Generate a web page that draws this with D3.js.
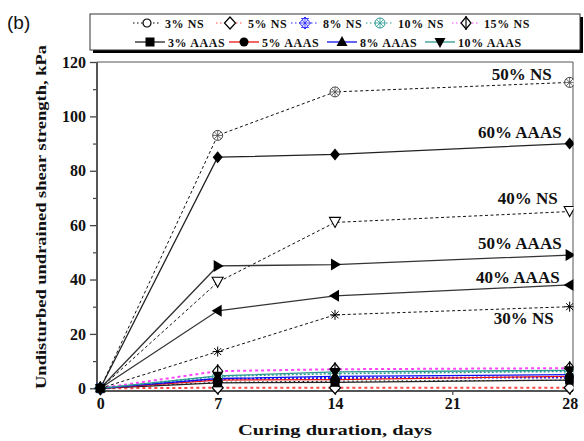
<!DOCTYPE html>
<html><head><meta charset="utf-8">
<script src="https://cdn.jsdelivr.net/npm/d3@7"></script>
<style>body{margin:0;background:#fff}svg{display:block}</style>
</head><body>
<script>
// ---------- data ----------
const days = [0, 7, 14, 28];
const xTicks = [0, 7, 14, 21, 28];
const yTicks = [0, 20, 40, 60, 80, 100, 120];
const yMinor = [10, 30, 50, 70, 90, 110];

const ns3  = [0, 2.2, 2.6, 3.0];
const ns5  = [0, 0.2, 0.2, 0.2];
const ns8  = [0, 3.4, 3.8, 4.0];
const ns10 = [0, 4.4, 5.4, 6.2];
const ns15 = [0, 6.3, 7.0, 7.4];
const aaas3  = [0, 2.0, 2.2, 3.0];
const aaas5  = [0, 3.0, 3.2, 4.4];
const aaas8  = [0, 3.6, 4.4, 5.0];
const aaas10 = [0, 4.6, 6.0, 6.6];

const ns30 = [0, 13.5, 27, 30];
const ns40 = [0, 39, 61, 65];
const ns50 = [0, 93, 109, 112.5];
const aaas40 = [0, 28.5, 34, 38];
const aaas50 = [0, 45, 45.5, 49];
const aaas60 = [0, 85, 86, 90];

const legendRow1 = ["3% NS", "5% NS", "8% NS", "10% NS", "15% NS"];
const legendRow2 = ["3% AAAS", "5% AAAS", "8% AAAS", "10% AAAS"];
const bigLabels = ["50% NS", "60% AAAS", "40% NS", "50% AAAS", "40% AAAS", "30% NS"];

// ---------- setup ----------
const W = 584, H = 441;
const L = 97, R = 573, T = 62, B = 391;
const svg = d3.select("body").append("svg").attr("width", W).attr("height", H);
const x = d3.scaleLinear().domain([-0.2, 28.2]).range([L, R]);
const y = d3.scaleLinear().domain([-1, 120]).range([B, T]);
const serif = "'Liberation Serif','Times New Roman',serif";

const NSdash = "3,2.5";
const smallSeries = [
  {v: ns3,  color: "#000",    dash: "1.5,3", w: 1,   m: "circleOpen", mc: "#000"},
  {v: ns5,  color: "#ff4444", dash: "3,3",   w: 2,   m: "diamondOpen", mc: "#000"},
  {v: ns8,  color: "#2222ff", dash: "2,2",   w: 2,   m: "hatchDiamond", mc: "#2222ff"},
  {v: ns10, color: "#2a9a90", dash: "2,2",   w: 1.5, m: "hatchCircle", mc: "#2a9a90"},
  {v: ns15, color: "#ff44ff", dash: "3,3",   w: 2,   m: "diamondVline", mc: "#000"},
  {v: aaas3,  color: "#222",    dash: null, w: 1.3, m: "square", mc: "#000"},
  {v: aaas5,  color: "#ee1111", dash: null, w: 1.3, m: "circle", mc: "#000"},
  {v: aaas8,  color: "#1111ee", dash: null, w: 1.3, m: "triUp", mc: "#000"},
  {v: aaas10, color: "#2a9a90", dash: null, w: 1.3, m: "triDown", mc: "#000"}
];
const bigSeries = [
  {v: ns50,   color: "#111", dash: NSdash, w: 1, m: "hatchCircle", mc: "#444", label: bigLabels[0], dx: -18, ly: 113.4},
  {v: aaas60, color: "#222", dash: null,   w: 1.3, m: "diamond", mc: "#000", label: bigLabels[1], dx: -8, ly: 92.1},
  {v: ns40,   color: "#111", dash: NSdash, w: 1, m: "triDownOpen", mc: "#000", label: bigLabels[2], dx: -12, ly: 67.6},
  {v: aaas50, color: "#333", dash: null,   w: 1.3, m: "triRight", mc: "#000", label: bigLabels[3], dx: -8, ly: 51.4},
  {v: aaas40, color: "#333", dash: null,   w: 1.3, m: "triLeft", mc: "#000", label: bigLabels[4], dx: -10, ly: 38.6},
  {v: ns30,   color: "#111", dash: NSdash, w: 1, m: "star", mc: "#000", label: bigLabels[5], dx: -16, ly: 23.6}
];

function marker(g, type, cx, cy, c) {
  const s = g.append("g").attr("transform", `translate(${cx},${cy})`);
  const r = 5;
  switch (type) {
    case "circleOpen": s.append("circle").attr("r", 4).attr("fill", "#fff").attr("stroke", c).attr("stroke-width", 1.2); break;
    case "circle": s.append("circle").attr("r", 4.5).attr("fill", c); break;
    case "square": s.append("rect").attr("x", -4.5).attr("y", -4.5).attr("width", 9).attr("height", 9).attr("fill", c); break;
    case "diamond": s.append("path").attr("d", "M0,-6L5,0L0,6L-5,0Z").attr("fill", c); break;
    case "diamondOpen": s.append("path").attr("d", "M0,-6L5.5,0L0,6L-5.5,0Z").attr("fill", "#fff").attr("stroke", c).attr("stroke-width", 1.2); break;
    case "diamondVline":
      s.append("path").attr("d", "M0,-6L5,0L0,6L-5,0Z").attr("fill", "#fff").attr("stroke", c).attr("stroke-width", 1.2);
      s.append("path").attr("d", "M0,-7V7").attr("stroke", c).attr("stroke-width", 1.2); break;
    case "triUp": s.append("path").attr("d", "M0,-6L5.5,4L-5.5,4Z").attr("fill", c); break;
    case "triDown": s.append("path").attr("d", "M0,6L5.5,-4L-5.5,-4Z").attr("fill", c); break;
    case "triDownOpen": s.append("path").attr("d", "M0,5L5.5,-5L-5.5,-5Z").attr("fill", "#fff").attr("stroke", c).attr("stroke-width", 1.1); break;
    case "triRight": s.append("path").attr("d", "M6,0L-4,-6L-4,6Z").attr("fill", c); break;
    case "triLeft": s.append("path").attr("d", "M-6,0L4,-6L4,6Z").attr("fill", c); break;
    case "star":
      s.append("path").attr("d", "M-5,0H5M-3.5,-3.5L3.5,3.5M-3.5,3.5L3.5,-3.5M0,-5V5").attr("stroke", c).attr("stroke-width", 1); break;
    case "hatchCircle":
      s.append("circle").attr("r", r).attr("fill", "#fff").attr("stroke", c).attr("stroke-width", 1);
      s.append("path").attr("d", "M-3.5,-3.5L3.5,3.5M-3.5,3.5L3.5,-3.5M-5,0H5M0,-5V5").attr("stroke", c).attr("stroke-width", 0.8);
      break;
    case "hatchDiamond":
      s.append("path").attr("d", "M0,-6L5.5,0L0,6L-5.5,0Z").attr("fill", "#fff").attr("stroke", c).attr("stroke-width", 1);
      s.append("path").attr("d", "M-2.75,-3L2.75,3M-2.75,3L2.75,-3M-5.5,0H5.5M0,-6V6M-4,-4.5H4M-4,4.5H4").attr("stroke", c).attr("stroke-width", 0.8);
      break;
  }
}

// ---------- clip ----------
svg.append("defs").append("clipPath").attr("id", "clip")
  .append("rect").attr("x", 0).attr("y", 0).attr("width", R + 0.5).attr("height", H);

// ---------- frame ----------
svg.append("line").attr("x1", L).attr("x2", R).attr("y1", T).attr("y2", T).attr("stroke", "#555").attr("stroke-width", 1);
svg.append("line").attr("x1", R).attr("x2", R).attr("y1", T).attr("y2", B).attr("stroke", "#555").attr("stroke-width", 1);

// axes
const yAxis = d3.axisLeft(y).tickValues(yTicks).tickSize(7).tickPadding(4);
const ya = svg.append("g").attr("transform", `translate(${L},0)`).call(yAxis);
ya.select(".domain").remove();
ya.selectAll("line").attr("stroke", "#444").attr("stroke-width", 1.3);
ya.selectAll("text").attr("font-family", serif).attr("font-weight", "bold").attr("font-size", 16).attr("fill", "#111");
const ym = svg.append("g").attr("transform", `translate(${L},0)`)
  .call(d3.axisLeft(y).tickValues(yMinor).tickSize(4).tickFormat(""));
ym.select(".domain").remove();
ym.selectAll("line").attr("stroke", "#444").attr("stroke-width", 1.2);

const xAxis = d3.axisBottom(x).tickValues(xTicks).tickSize(4).tickPadding(3);
const xa = svg.append("g").attr("transform", `translate(0,${B})`).call(xAxis);
xa.select(".domain").remove();
xa.selectAll("line").attr("stroke", "#444").attr("stroke-width", 1.2);
xa.selectAll("text").attr("font-family", serif).attr("font-weight", "bold").attr("font-size", 16).attr("fill", "#111");

svg.append("line").attr("x1", L).attr("x2", L).attr("y1", T).attr("y2", B + 1).attr("stroke", "#555").attr("stroke-width", 2);
svg.append("line").attr("x1", L - 1).attr("x2", R).attr("y1", B).attr("y2", B).attr("stroke", "#555").attr("stroke-width", 2);

// ---------- series ----------
const plot = svg.append("g").attr("clip-path", "url(#clip)");
const line = d3.line().x((d, i) => x(days[i])).y(d => y(d));

function drawSeries(s) {
  plot.append("path").attr("d", line(s.v)).attr("fill", "none")
    .attr("stroke", s.color).attr("stroke-width", s.w)
    .attr("stroke-dasharray", s.dash);
}
smallSeries.forEach(drawSeries);
bigSeries.forEach(drawSeries);
smallSeries.forEach(s => s.v.forEach((v, i) => marker(plot, s.m, x(days[i]), y(v), s.mc)));
bigSeries.forEach(s => s.v.forEach((v, i) => { if (i > 0) marker(plot, s.m, x(days[i]), y(v), s.mc); }));

// labels
bigSeries.forEach(s => {
  svg.append("text").attr("x", x(28) + s.dx).attr("y", y(s.ly))
    .attr("text-anchor", "end").attr("font-family", serif).attr("font-weight", "bold")
    .attr("font-size", 17).attr("fill", "#111").text(s.label);
});

// ---------- axis titles ----------
svg.append("text").attr("x", 335).attr("y", 435).attr("text-anchor", "middle")
  .attr("font-family", serif).attr("font-weight", "bold").attr("font-size", 15)
  .attr("textLength", 194).attr("lengthAdjust", "spacingAndGlyphs").attr("fill", "#111")
  .text("Curing duration, days");
svg.append("text").attr("transform", "translate(46,217) rotate(-90)").attr("text-anchor", "middle")
  .attr("font-family", serif).attr("font-weight", "bold").attr("font-size", 15)
  .attr("textLength", 344).attr("lengthAdjust", "spacingAndGlyphs").attr("fill", "#111")
  .text("Undisturbed undrained shear strength, kPa");

svg.append("text").attr("x", 7).attr("y", 29).attr("font-family", "'Liberation Sans',Arial,sans-serif")
  .attr("font-size", 19).attr("fill", "#111").text("(b)");

// ---------- legend ----------
const lg = svg.append("g");
lg.append("rect").attr("x", 93).attr("y", 17).attr("width", 490).attr("height", 36).attr("fill", "#000");
lg.append("rect").attr("x", 90).attr("y", 14).attr("width", 490).attr("height", 36).attr("fill", "#fff").attr("stroke", "#333").attr("stroke-width", 1);
const row1X = [147, 230, 305, 380, 466];
const row2X = [150, 244, 342, 440];
legendRow1.forEach((t, i) => {
  const s = smallSeries[i], cx = row1X[i], cy = 23;
  lg.append("line").attr("x1", cx - 14).attr("x2", cx + 14).attr("y1", cy).attr("y2", cy)
    .attr("stroke", s.color).attr("stroke-width", 1).attr("stroke-dasharray", "1.5,2.5");
  marker(lg, s.m, cx, cy, s.mc);
  lg.append("text").attr("x", cx + 18).attr("y", cy + 4.5).attr("font-family", serif).attr("font-weight", "bold")
    .attr("font-size", 12).attr("letter-spacing", 0.6).attr("fill", "#111").text(t);
});
legendRow2.forEach((t, i) => {
  const s = smallSeries[5 + i], cx = row2X[i], cy = 42;
  lg.append("line").attr("x1", cx - 15).attr("x2", cx + 15).attr("y1", cy).attr("y2", cy)
    .attr("stroke", s.color).attr("stroke-width", 1.3);
  marker(lg, s.m, cx, cy, s.mc);
  lg.append("text").attr("x", cx + 18).attr("y", cy + 4.5).attr("font-family", serif).attr("font-weight", "bold")
    .attr("font-size", 12).attr("letter-spacing", 0.6).attr("fill", "#111").text(t);
});
</script>
</body></html>
